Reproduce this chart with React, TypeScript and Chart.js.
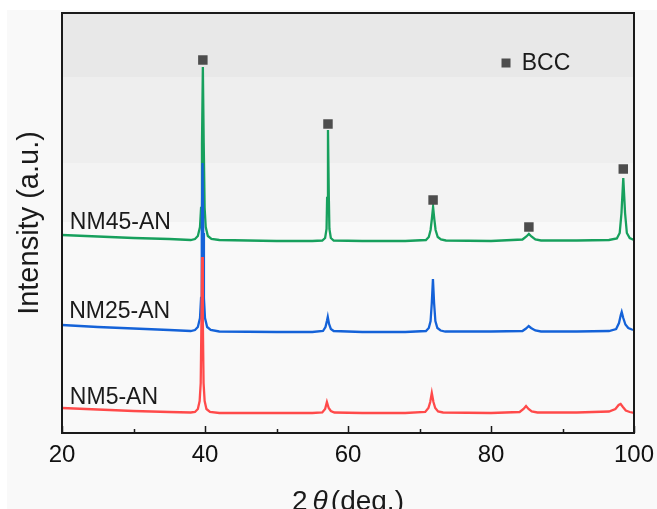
import React, { useEffect, useRef } from "react";
import { Chart, registerables } from "chart.js";

Chart.register(...registerables);

// ---------- data ----------
const xTicks = [20, 40, 60, 80, 100];
const xMinorTicks = [30, 50, 70, 90];

const seriesNames = ["NM5-AN", "NM25-AN", "NM45-AN"];

const nm5X = [20, 25, 30, 35, 38, 38.6, 39.0, 39.25, 39.4, 39.5, 39.6, 39.7, 39.8, 39.95, 40.2, 40.7, 42, 50, 55, 56.4, 56.8, 57.05, 57.3, 57.6, 58.1, 62, 68, 70.8, 71.25, 71.5, 71.72, 71.95, 72.2, 72.6, 73.3, 80, 84.0, 84.55, 84.9, 85.25, 85.7, 86.5, 92, 96.5, 97.4, 97.85, 98.13, 98.45, 98.85, 99.4, 100];
const nm5Y = [25, 23.5, 22, 21, 20.5, 21, 24, 32, 50, 110, 176, 110, 50, 32, 24, 21, 20, 20, 20, 20.5, 24, 31, 25, 22, 20.5, 20, 20, 21, 25, 31, 40, 31, 25, 21.5, 20.5, 20, 21, 24, 27, 24, 21.5, 20.5, 20.5, 21.5, 24, 28, 29, 26, 22.5, 21, 20];

const nm25X = [20, 25, 30, 35, 38, 38.6, 39.0, 39.3, 39.45, 39.55, 39.65, 39.75, 39.85, 40.0, 40.3, 40.8, 42, 50, 55, 56.5, 56.85, 57.05, 57.17, 57.35, 57.6, 58.0, 62, 68, 70.9, 71.3, 71.55, 71.72, 71.88, 72.04, 72.22, 72.5, 72.95, 73.6, 80, 84.4, 84.9, 85.27, 85.6, 86.2, 87, 92, 96.5, 97.5, 97.9, 98.15, 98.28, 98.5, 98.8, 99.2, 99.7, 100];
const nm25Y = [108, 106, 104.5, 103, 102, 103, 106, 115, 135, 200, 270, 200, 135, 115, 106, 103, 101.5, 101, 101, 102, 106, 112, 116, 109, 104, 102, 101, 101, 102, 105, 112, 130, 154, 130, 112, 105, 102.5, 101.5, 101.5, 102, 104.5, 107, 105, 102.5, 101.5, 101.5, 102, 104, 110, 118, 121, 115, 108.5, 105, 103.5, 103];

const nm45X = [20, 25, 30, 35, 38, 38.6, 39.0, 39.3, 39.45, 39.58, 39.7, 39.82, 39.95, 40.1, 40.4, 40.9, 42, 50, 55, 56.4, 56.8, 57.0, 57.08, 57.2, 57.32, 57.4, 57.6, 58.0, 62, 68, 70.9, 71.3, 71.55, 71.73, 71.9, 72.07, 72.25, 72.55, 73.0, 73.7, 80, 84.4, 84.95, 85.3, 85.65, 86.2, 87, 92, 96.5, 97.6, 98.0, 98.25, 98.5, 98.75, 99.0, 99.4, 100];
const nm45Y = [198, 196.5, 195, 194, 193, 194, 197, 206, 225, 290, 366, 290, 225, 206, 197, 194, 193, 192, 192, 192.5, 195, 204, 235, 303, 235, 204, 195, 192.5, 192, 192, 193, 196, 203, 214, 226, 214, 203, 196, 193.5, 192.5, 192, 193.5, 196.5, 199, 196.5, 193.5, 192.5, 192.5, 193, 194.5, 200, 220, 255, 220, 200, 195, 193];

// BCC peak markers
const bccX = [39.7, 57.2, 71.9, 85.3, 98.5];
const bccY = [373, 309, 233, 206, 264];

// ---------- layout / style (kept separate from data) ----------
const Y_MIN = 0;
const Y_MAX = 420;
const FONT = "'Liberation Sans', Arial, Helvetica, sans-serif";
const lineColors = ["#ff4a4a", "#1462d8", "#17a05d"];
const labelAnchors = [
  { x: 21.1, y: 35 },
  { x: 21.0, y: 121 },
  { x: 21.1, y: 210 },
];
const legendAnchor = { markerX: 82.1, textX: 84.3, y: 370 };
const bandEdges = [420, 356, 270, 211];
const bandColors = ["#e8e8e8", "#eeeeee", "#f3f3f3"];

const toPts = (xs: number[], ys: number[]) => xs.map((x, i) => ({ x, y: ys[i] }));

const decorPlugin = {
  id: "decor",
  beforeDraw(chart: any) {
    const { ctx, width, height, chartArea: a, scales } = chart;
    ctx.save();
    ctx.fillStyle = "#ffffff";
    ctx.fillRect(0, 0, width, height);
    ctx.fillStyle = "#f9f9f9";
    ctx.fillRect(7, 10, width - 7, height - 10);
    const y = scales.y;
    for (let i = 0; i < bandColors.length; i++) {
      const t = y.getPixelForValue(bandEdges[i]);
      const b = y.getPixelForValue(bandEdges[i + 1]);
      ctx.fillStyle = bandColors[i];
      ctx.fillRect(a.left, t, a.right - a.left, b - t);
    }
    ctx.restore();
  },
  afterDatasetsDraw(chart: any) {
    const { ctx, chartArea: a, scales } = chart;
    const x = scales.x;
    const y = scales.y;
    ctx.save();
    // frame
    ctx.strokeStyle = "#1a1a1a";
    ctx.lineWidth = 2;
    ctx.strokeRect(a.left, a.top, a.right - a.left, a.bottom - a.top);
    // inward ticks
    ctx.lineWidth = 1.5;
    ctx.beginPath();
    for (const v of xTicks) {
      const px = Math.round(x.getPixelForValue(v)) + 0.5;
      ctx.moveTo(px, a.bottom);
      ctx.lineTo(px, a.bottom - 7);
    }
    for (const v of xMinorTicks) {
      const px = Math.round(x.getPixelForValue(v)) + 0.5;
      ctx.moveTo(px, a.bottom);
      ctx.lineTo(px, a.bottom - 4);
    }
    ctx.stroke();

    // series labels
    ctx.fillStyle = "#1a1a1a";
    ctx.font = `23px ${FONT}`;
    ctx.textAlign = "left";
    ctx.textBaseline = "middle";
    seriesNames.forEach((name, i) => {
      ctx.fillText(name, x.getPixelForValue(labelAnchors[i].x), y.getPixelForValue(labelAnchors[i].y));
    });

    // legend
    const mx = x.getPixelForValue(legendAnchor.markerX);
    const my = y.getPixelForValue(legendAnchor.y);
    ctx.fillStyle = "#4d4d4d";
    ctx.fillRect(mx - 4.5, my - 4.5, 9, 9);
    ctx.fillStyle = "#1a1a1a";
    ctx.fillText("BCC", x.getPixelForValue(legendAnchor.textX), my + 1);

    // x title: 2θ (deg.) with italic θ
    const size = 28;
    const normal = `${size}px ${FONT}`;
    const italic = `italic ${size}px ${FONT}`;
    ctx.font = normal;
    const w2 = ctx.measureText("2").width;
    const wd = ctx.measureText("(deg.)").width;
    ctx.font = italic;
    const wt = ctx.measureText("θ").width;
    const gap1 = 5;
    const gap2 = 3;
    const total = w2 + gap1 + wt + gap2 + wd;
    const cx = (a.left + a.right) / 2;
    let sx = cx - total / 2;
    const base = 510;
    ctx.textBaseline = "alphabetic";
    ctx.font = normal;
    ctx.fillText("2", sx, base);
    sx += w2 + gap1;
    ctx.font = italic;
    ctx.fillText("θ", sx, base);
    sx += wt + gap2;
    ctx.font = normal;
    ctx.fillText("(deg.)", sx, base);
    ctx.restore();
  },
};

export default function App() {
  const ref = useRef<HTMLCanvasElement | null>(null);

  useEffect(() => {
    if (!ref.current) return;
    const chart = new Chart(ref.current, {
      type: "scatter",
      data: {
        datasets: [
          {
            label: "BCC",
            data: toPts(bccX, bccY),
            showLine: false,
            pointStyle: "rect",
            pointRadius: 6.7,
            pointBorderWidth: 0,
            backgroundColor: "#4d4d4d",
            borderColor: "#4d4d4d",
          } as any,
          ...[toPts(nm5X, nm5Y), toPts(nm25X, nm25Y), toPts(nm45X, nm45Y)].map((pts, i) => ({
            label: seriesNames[i],
            data: pts,
            showLine: true,
            borderColor: lineColors[i],
            backgroundColor: lineColors[i],
            borderWidth: 2.3,
            pointRadius: 0,
            tension: 0,
          })),
        ],
      },
      options: {
        animation: false,
        responsive: false,
        devicePixelRatio: 1,
        layout: { padding: { top: 13, right: 23, left: 0, bottom: 0 } },
        plugins: { legend: { display: false }, tooltip: { enabled: false } },
        scales: {
          x: {
            type: "linear",
            min: 20,
            max: 100,
            grid: { display: false, drawTicks: false },
            border: { display: false },
            afterBuildTicks: (s: any) => {
              s.ticks = xTicks.map((v) => ({ value: v }));
            },
            afterFit: (s: any) => {
              s.height = 76;
              s.paddingLeft = 0;
              s.paddingRight = 0;
            },
            ticks: {
              color: "#111111",
              padding: 8,
              font: { family: FONT, size: 24 },
              maxRotation: 0,
            },
          },
          y: {
            type: "linear",
            min: Y_MIN,
            max: Y_MAX,
            grid: { display: false, drawTicks: false },
            border: { display: false },
            ticks: { display: false },
            afterFit: (s: any) => {
              s.width = 62;
              s.paddingTop = 0;
              s.paddingBottom = 0;
            },
            title: {
              display: true,
              text: "Intensity (a.u.)",
              color: "#1a1a1a",
              font: { family: FONT, size: 29 },
              padding: { top: 13, bottom: 0 },
            },
          },
        },
      },
      plugins: [decorPlugin],
    } as any);
    return () => chart.destroy();
  }, []);

  return (
    <div style={{ position: "fixed", left: 0, top: 0, width: 657, height: 509 }}>
      <canvas ref={ref} width={657} height={509} style={{ display: "block", width: 657, height: 509 }} />
    </div>
  );
}
